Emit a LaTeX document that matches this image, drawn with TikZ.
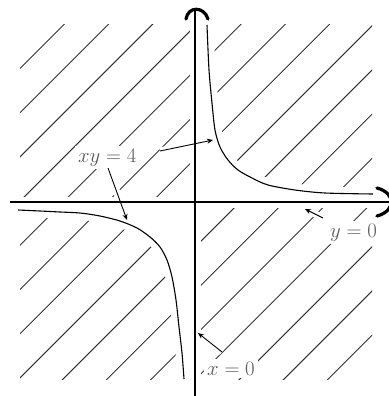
\documentclass[tikz,border=0pt]{standalone}
\usetikzlibrary{arrows.meta}
\begin{document}
\begin{tikzpicture}[x=1pt,y=-1pt,
  hatch/.style={black!80, line width=0.95pt},
  curve/.style={black, line width=1.1pt},
  axis/.style={black, line width=1.2pt},
  halo/.style={white, line width=#1},
  lbl/.style={font=\fontsize{20.5}{24}\selectfont, text=black!65, inner sep=3pt, fill=white},
  ptr/.style={black, line width=0.9pt, -{Stealth[length=6pt,width=5pt]}, preaction={draw=white,line width=7pt,-}},
  axcap/.style={black, line width=3.2pt, line cap=round}
]
\useasboundingbox (0,0) rectangle (388,396);
% hatching
\begin{scope}
  \clip (20,25) rectangle (372,379);
  \foreach \k in {0,...,14} {
    \pgfmathsetmacro\c{88.5+44.2*\k}
    \draw[hatch] (\c-400,400) -- (\c,0);
  }
\end{scope}
% unshaded region and gaps
\fill[white] (195,202) -- (195,25) -- plot[smooth] coordinates {(207,25) (209,70) (212,103) (215,130) (220,147) (228,160) (238,170) (252,178) (268,185) (295,190) (325,193) (373,194)} -- (373,202) -- cycle;
\fill[white] (195,202) -- (18,202) -- plot[smooth] coordinates {(18,210) (40,211) (60,212) (80,213) (100,216) (120,221) (137,228) (150,237) (160,247) (167,260) (172,277) (176,300) (179,327) (182,353) (184,379)} -- (195,379) -- cycle;
\draw[halo=13pt] plot[smooth] coordinates {(207,25) (209,70) (212,103) (215,130) (220,147) (228,160) (238,170) (252,178) (268,185) (295,190) (325,193) (373,194)};
\draw[halo=13pt] plot[smooth] coordinates {(18,210) (40,211) (60,212) (80,213) (100,216) (120,221) (137,228) (150,237) (160,247) (167,260) (172,277) (176,300) (179,327) (182,353) (184,379)};
\draw[halo=11pt] (195,0) -- (195,396);
\draw[halo=11pt] (0,202) -- (388,202);
% labels
\node[lbl, anchor=base west] (lxy) at (75,162) {$xy=4$};
\node[lbl, anchor=base west] (ly) at (327,237) {$y=0$};
\node[lbl, anchor=base west] (lx) at (204,375) {$x=0$};
% pointers
\coordinate (t1) at (160,151); \coordinate (h1) at (213,140);
\coordinate (t2) at (108,168); \coordinate (h2) at (127,220);
\coordinate (t3) at (323,218); \coordinate (h3) at (305,209);
\coordinate (t4) at (222,352); \coordinate (h4) at (198,333);
\draw[ptr] (t1) -- (h1);
\draw[ptr] (t2) -- (h2);
\draw[ptr] (t3) -- (h3);
\draw[ptr] (t4) -- (h4);
% curves
\draw[curve] plot[smooth] coordinates {(207,25) (209,70) (212,103) (215,130) (220,147) (228,160) (238,170) (252,178) (268,185) (295,190) (325,193) (373,194)};
\draw[curve] plot[smooth] coordinates {(18,210) (40,211) (60,212) (80,213) (100,216) (120,221) (137,228) (150,237) (160,247) (167,260) (172,277) (176,300) (179,327) (182,353) (184,379)};
% axes
\coordinate (yb) at (195,398); \coordinate (yt) at (195,8);
\coordinate (xl) at (10,202); \coordinate (xr) at (394,202);
\draw[axis] (yb) -- (yt);
\draw[axis] (xl) -- (xr);
% axis caps
\draw[axcap] (186,19) .. controls (188,6) and (204,6) .. (208,19);
\draw[axcap] (377,188) .. controls (396,193) and (396,211) .. (377,216);
\end{tikzpicture}
\end{document}
